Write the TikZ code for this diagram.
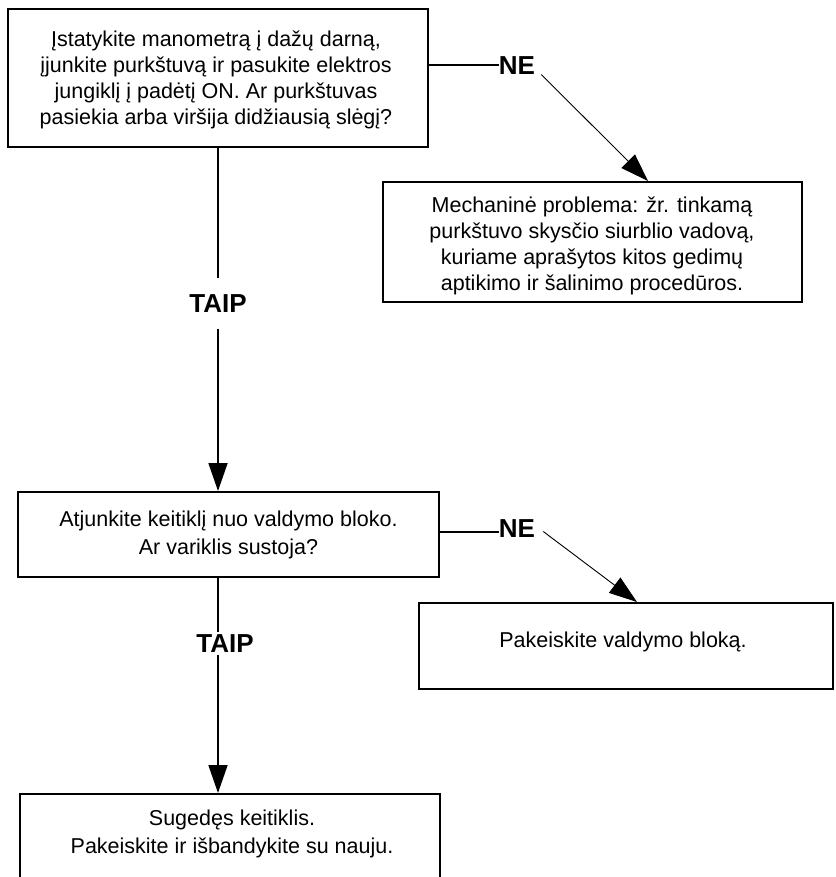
\documentclass[tikz,border=0pt]{standalone}
\usepackage{fontspec}
\setmainfont{Liberation Sans}
\usetikzlibrary{arrows.meta}
\begin{document}
\begin{tikzpicture}[x=1pt,y=-1pt,
  box/.style={draw,line width=2pt,rectangle,inner sep=0pt,align=center},
  txtA/.style={font=\fontsize{21.5}{26}\selectfont},
  txtB/.style={font=\fontsize{21.5}{28}\selectfont},
  lbl/.style={font=\bfseries\fontsize{26}{26}\selectfont,inner xsep=0pt,text height=18.6pt,text depth=0pt},
  conn/.style={line width=1.8pt},
  tip/.style={-{Triangle[length=28pt,width=19pt]}},
  diag/.style={line width=0.9pt}]
\useasboundingbox (0,0) rectangle (835,877);
% boxes
\node[box,minimum width=420pt,minimum height=138pt] (b1) at (218,78) {};
\node[txtA,inner sep=0pt,align=center] (t1) at (216,80)
  {Įstatykite manometrą į dažų darną,\\ įjunkite purkštuvą ir pasukite elektros\\ jungiklį į padėtį ON. Ar purkštuvas\\ pasiekia arba viršija didžiausią slėgį?};
\node[box,minimum width=419pt,minimum height=120pt] (b2) at (592.5,242) {};
\node[txtA,inner sep=0pt,align=center] (t2) at (592,246)
  {Mechaninė problema: žr. tinkamą\\ purkštuvo skysčio siurblio vadovą,\\ kuriame aprašytos kitos gedimų\\ aptikimo ir šalinimo procedūros.};
\node[box,txtB,minimum width=421pt,minimum height=85pt] (b3) at (228.5,534.5)
  {Atjunkite keitiklį nuo valdymo bloko.\\ Ar variklis sustoja?};
\node[box,minimum width=414pt,minimum height=86pt] (b4) at (626,646) {};
\node[txtA,inner sep=0pt] (t4) at (623,642) {Pakeiskite valdymo bloką.};
\node[box,minimum width=420pt,minimum height=88pt] (b5) at (230,838) {};
\node[txtB,inner sep=0pt,align=center] (t5) at (232,834) {Sugedęs keitiklis.\\ Pakeiskite ir išbandykite su nauju.};
% labels
\node[lbl,inner ysep=16pt] (taip1) at (218,303) {TAIP};
\node[lbl,inner ysep=2pt] (taip2) at (225,643) {TAIP};
\node[lbl,inner ysep=0pt] (ne1) at (517,65) {NE};
\node[lbl,inner ysep=0pt] (ne2) at (517,528) {NE};
% connectors
\draw[conn] (b1.south) -- (taip1.north);
\draw[conn,tip] (taip1.south) -- (b3.north -| taip1.south);
\draw[conn] (b3.south -| b1.south) -- (taip2.north -| b1.south);
\draw[conn,tip] (taip2.south -| b1.south) -- (b5.north -| b1.south);
\draw[conn] (b1.east |- ne1.west) -- (ne1.west);
\draw[diag,tip] ([xshift=6pt]ne1.south east) -- ([xshift=55.5pt]b2.north);
\draw[conn] ([yshift=2.5pt]b3.east) -- ([yshift=2.5pt]b3.east -| ne2.west);
\draw[diag,tip] ([xshift=8pt,yshift=6pt]ne2.south east) -- ([xshift=11pt]b4.north);
\end{tikzpicture}
\end{document}
